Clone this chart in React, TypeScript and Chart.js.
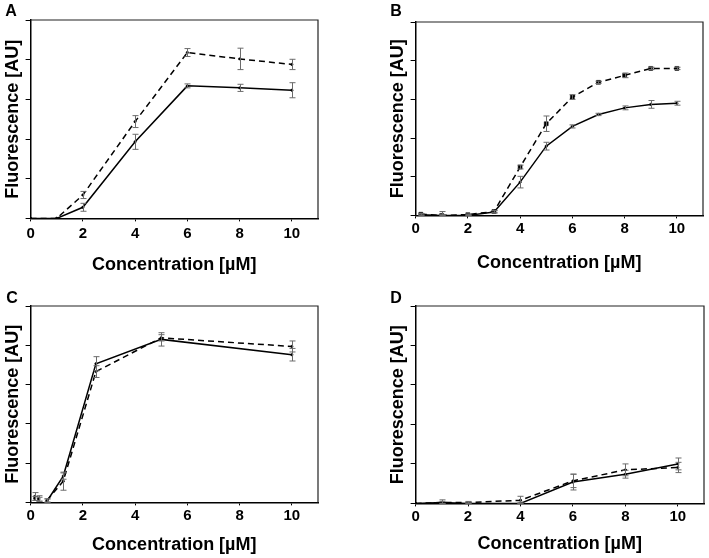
import React, { useEffect, useRef } from "react";
import Chart from "chart.js/auto";

// ---------- data ----------
const xTicks = [0, 2, 4, 6, 8, 10];
const yTicks = [0, 1, 2, 3, 4, 5];

const aX = [0, 1, 2, 4, 6, 8, 10];
const aSolid = [0, 0, 0.28, 1.93, 3.34, 3.29, 3.23];
const aSolidErr = [0, 0, 0.1, 0.19, 0.05, 0.09, 0.19];
const aDashed = [0, 0, 0.59, 2.44, 4.18, 4.02, 3.88];
const aDashedErr = [0, 0, 0.09, 0.15, 0.1, 0.27, 0.13];

const bX = [0.2, 1, 2, 3, 4, 5, 6, 7, 8, 9, 10];
const bSolid = [0.02, 0, 0, 0.09, 0.86, 1.79, 2.3, 2.61, 2.78, 2.87, 2.9];
const bSolidErr = [0.02, 0.1, 0.02, 0.03, 0.15, 0.1, 0.04, 0.03, 0.05, 0.1, 0.05];
const bDashed = [0.03, 0, 0.02, 0.1, 1.25, 2.37, 3.06, 3.44, 3.62, 3.8, 3.8];
const bDashedErr = [0.02, 0.02, 0.02, 0.03, 0.05, 0.2, 0.06, 0.03, 0.06, 0.03, 0.03];

const cX = [0.156, 0.3125, 0.625, 1.25, 2.5, 5, 10];
const cSolid = [0.15, 0.1, 0.03, 0.67, 3.53, 4.15, 3.76];
const cSolidErr = [0.1, 0.07, 0.06, 0.08, 0.18, 0.17, 0.16];
const cDashed = [0.1, 0.08, 0.05, 0.54, 3.33, 4.19, 3.97];
const cDashedErr = [0.05, 0.05, 0.04, 0.23, 0.15, 0.08, 0.14];

const dX = [0, 1, 2, 4, 6, 8, 10];
const dSolid = [0, 0.02, 0, 0, 0.54, 0.74, 1.0];
const dSolidErr = [0, 0.07, 0.03, 0.03, 0.2, 0.1, 0.15];
const dDashed = [0, 0.02, 0.02, 0.08, 0.57, 0.85, 0.91];
const dDashedErr = [0, 0.03, 0.03, 0.1, 0.17, 0.15, 0.13];

const xTitle = "Concentration [\u00B5M]";
const yTitle = "Fluorescence [AU]";

// ---------- styles / layout ----------
const FONT = "'Liberation Sans', Arial, Helvetica, sans-serif";

type PanelCfg = {
  letter: string;
  left: number;
  top: number;
  xs: number[];
  solid: number[];
  solidErr: number[];
  dashed: number[];
  dashedErr: number[];
  lineStart: number;
  dashedRadius: number;
  dashedStyle: string;
  pad: { left: number; right: number; top: number; bottom: number };
  tickPad: number;
  titlePad: number;
  letterPos: [number, number];
};

const panels: PanelCfg[] = [
  {
    letter: "A", left: 0, top: 0,
    xs: aX, solid: aSolid, solidErr: aSolidErr, dashed: aDashed, dashedErr: aDashedErr,
    lineStart: 0, dashedRadius: 1.2, dashedStyle: "circle",
    pad: { left: 0, right: 36, top: 20, bottom: 3 }, tickPad: 3, titlePad: 9,
    letterPos: [11, 12],
  },
  {
    letter: "B", left: 354, top: 0,
    xs: bX, solid: bSolid, solidErr: bSolidErr, dashed: bDashed, dashedErr: bDashedErr,
    lineStart: 0, dashedRadius: 2.8, dashedStyle: "rect",
    pad: { left: 31, right: 5, top: 22, bottom: 5 }, tickPad: 1, titlePad: 14,
    letterPos: [42, 12],
  },
  {
    letter: "C", left: 0, top: 279,
    xs: cX, solid: cSolid, solidErr: cSolidErr, dashed: cDashed, dashedErr: cDashedErr,
    lineStart: 2, dashedRadius: 1.2, dashedStyle: "circle",
    pad: { left: 0, right: 36, top: 27, bottom: 2 }, tickPad: 1, titlePad: 9,
    letterPos: [12, 20],
  },
  {
    letter: "D", left: 354, top: 279,
    xs: dX, solid: dSolid, solidErr: dSolidErr, dashed: dDashed, dashedErr: dDashedErr,
    lineStart: 0, dashedRadius: 1.2, dashedStyle: "circle",
    pad: { left: 31, right: 4, top: 27, bottom: 3 }, tickPad: 1, titlePad: 7,
    letterPos: [42, 20],
  },
];

const decorPlugin = {
  id: "decor",
  afterDatasetsDraw(chart: any) {
    const ctx = chart.ctx;
    const xs = chart.scales.x;
    const ys = chart.scales.y;
    ctx.save();
    chart.data.datasets.forEach((ds: any) => {
      const errs: number[] | undefined = ds.errors;
      if (!errs) return;
      ctx.strokeStyle = "#6b6b6b";
      ctx.lineWidth = 1;
      ds.data.forEach((pt: any, i: number) => {
        const e = errs[i];
        if (!e) return;
        const px = Math.round(xs.getPixelForValue(pt.x)) + 0.5;
        const y1 = ys.getPixelForValue(pt.y + e);
        const y2 = ys.getPixelForValue(Math.max(pt.y - e, 0));
        ctx.beginPath();
        ctx.moveTo(px, y1);
        ctx.lineTo(px, y2);
        ctx.moveTo(px - 3, y1);
        ctx.lineTo(px + 3, y1);
        ctx.moveTo(px - 3, y2);
        ctx.lineTo(px + 3, y2);
        ctx.stroke();
      });
    });
    ctx.restore();
  },
  afterDraw(chart: any, _args: any, opts: any) {
    const ctx = chart.ctx;
    const a = chart.chartArea;
    ctx.save();
    ctx.strokeStyle = "#222";
    ctx.lineWidth = 1.2;
    ctx.beginPath();
    ctx.moveTo(a.left, a.top);
    ctx.lineTo(a.right, a.top);
    ctx.lineTo(a.right, a.bottom);
    ctx.stroke();
    ctx.fillStyle = "#000";
    ctx.font = `bold 16px ${FONT}`;
    ctx.textAlign = "center";
    ctx.textBaseline = "middle";
    ctx.fillText(opts.letter, opts.pos[0], opts.pos[1]);
    ctx.restore();
  },
};

function Panel({ cfg }: { cfg: PanelCfg }) {
  const ref = useRef<HTMLCanvasElement | null>(null);
  useEffect(() => {
    if (!ref.current) return;
    const solidData = cfg.xs.map((x, i) => ({ x, y: cfg.solid[i] }));
    const dashedData = cfg.xs.map((x, i) => ({ x, y: cfg.dashed[i] }));
    const hideSeg = (c: any) => (c.p0DataIndex < cfg.lineStart ? "rgba(0,0,0,0)" : undefined);
    const chart = new Chart(ref.current, {
      type: "scatter",
      data: {
        datasets: [
          {
            label: "solid",
            data: solidData,
            errors: cfg.solidErr,
            showLine: true,
            borderColor: "#000",
            backgroundColor: "#000",
            borderWidth: 1.5,
            pointRadius: 1.2,
            pointBorderWidth: 0.5,
            pointHoverRadius: 1.2,
            segment: { borderColor: hideSeg },
          } as any,
          {
            label: "dashed",
            data: dashedData,
            errors: cfg.dashedErr,
            showLine: true,
            borderColor: "#000",
            backgroundColor: "#000",
            borderWidth: 1.5,
            borderDash: [6, 4],
            pointStyle: cfg.dashedStyle,
            pointRadius: cfg.dashedRadius,
            pointBorderWidth: 0.5,
            pointHoverRadius: cfg.dashedRadius,
            segment: { borderColor: hideSeg },
          } as any,
        ],
      },
      options: {
        animation: false,
        responsive: false,
        maintainAspectRatio: false,
        events: [],
        layout: { padding: cfg.pad },
        plugins: {
          legend: { display: false },
          tooltip: { enabled: false },
          decor: { letter: cfg.letter, pos: cfg.letterPos },
        } as any,
        scales: {
          x: {
            type: "linear",
            min: 0,
            max: 11,
            afterBuildTicks: (s: any) => {
              s.ticks = xTicks.map((v) => ({ value: v }));
            },
            grid: { drawOnChartArea: false, drawTicks: true, tickLength: 3, color: "#000" },
            border: { display: true, color: "#000", width: 1.5 },
            ticks: {
              color: "#000",
              padding: cfg.tickPad,
              maxRotation: 0,
              font: { family: FONT, size: 15, weight: "bold" },
            },
            title: {
              display: true,
              text: xTitle,
              color: "#000",
              padding: { top: cfg.titlePad, bottom: 0 },
              font: { family: FONT, size: 18, weight: "bold" },
            },
          },
          y: {
            type: "linear",
            min: 0,
            max: 5,
            afterBuildTicks: (s: any) => {
              s.ticks = yTicks.map((v) => ({ value: v }));
            },
            grid: { drawOnChartArea: false, drawTicks: true, tickLength: 5, color: "#000" },
            border: { display: true, color: "#000", width: 1.5 },
            ticks: { display: false },
            title: {
              display: true,
              text: yTitle,
              color: "#000",
              padding: { top: 2, bottom: 2 },
              font: { family: FONT, size: 18, weight: "bold" },
            },
          },
        },
      } as any,
      plugins: [decorPlugin],
    });
    return () => chart.destroy();
  }, [cfg]);
  return (
    <div style={{ position: "absolute", left: cfg.left, top: cfg.top, width: 354, height: 279 }}>
      <canvas ref={ref} width={354} height={279} style={{ display: "block", width: 354, height: 279 }} />
    </div>
  );
}

export default function App() {
  return (
    <div style={{ position: "absolute", left: 0, top: 0, width: 709, height: 558, background: "#fff" }}>
      {panels.map((p) => (
        <Panel key={p.letter} cfg={p} />
      ))}
    </div>
  );
}
